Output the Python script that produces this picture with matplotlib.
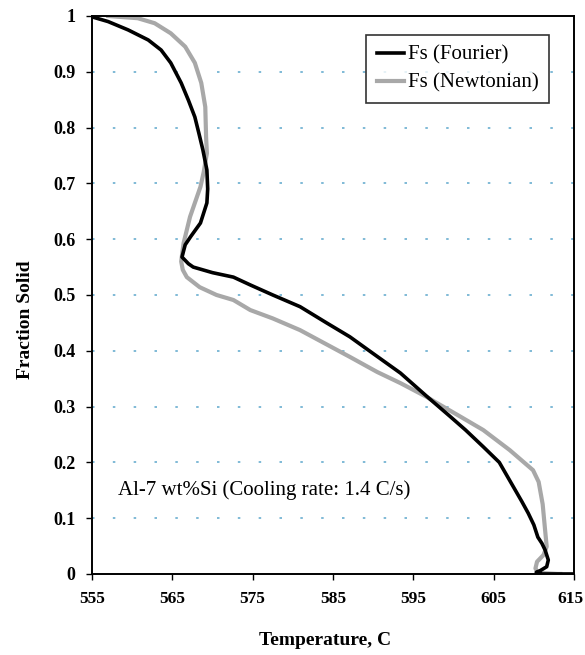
import matplotlib
matplotlib.use('Agg')
import matplotlib.pyplot as plt
import matplotlib.transforms as mtransforms


# ----------------------------------------------------------------------------------------
#                             DATA AREA

# Fourier model (temperature C, fraction solid)
fourier_temp = [555.0, 555.1, 557.0, 559.5, 562.0, 563.6, 564.8, 566.1, 567.0, 567.8,
                568.3, 568.8, 569.3, 569.4, 569.3, 568.5, 567.3, 566.6, 566.2, 567.0,
                567.6, 570.0, 572.6, 574.7, 577.5, 580.9, 584.2, 587.1, 590.0, 593.4,
                596.7, 599.6, 601.5, 603.7, 605.7, 607.5, 608.5, 609.3, 610.0, 610.5,
                611.0, 611.4, 611.8, 611.6, 610.8, 610.3, 611.0, 615.0]
fourier_fs   = [1.000, 0.998, 0.990, 0.975, 0.957, 0.939, 0.916, 0.880, 0.849, 0.819,
                0.790, 0.760, 0.724, 0.690, 0.665, 0.629, 0.605, 0.590, 0.568, 0.556,
                0.550, 0.540, 0.532, 0.518, 0.500, 0.479, 0.450, 0.425, 0.395, 0.360,
                0.318, 0.282, 0.258, 0.228, 0.200, 0.155, 0.130, 0.109, 0.088, 0.066,
                0.055, 0.043, 0.025, 0.013, 0.006, 0.003, 0.000, 0.000]

# Newtonian model
newton_temp = [557.0, 557.9, 560.7, 562.8, 564.8, 566.6, 567.8, 568.6, 569.1, 569.2,
               569.3, 568.9, 568.5, 567.2, 566.4, 566.1, 566.3, 566.8, 568.4, 570.5,
               572.6, 574.7, 577.5, 580.9, 584.0, 587.1, 590.5, 593.4, 596.7, 597.5,
               600.5, 603.7, 607.0, 609.9, 610.6, 611.1, 611.4, 611.6, 611.2, 610.4,
               610.2, 610.5, 613.0, 613.3]
newton_fs   = [1.000, 0.999, 0.996, 0.987, 0.969, 0.945, 0.916, 0.880, 0.837, 0.783,
               0.754, 0.720, 0.694, 0.640, 0.593, 0.560, 0.545, 0.532, 0.514, 0.500,
               0.491, 0.473, 0.458, 0.437, 0.413, 0.389, 0.362, 0.342, 0.317, 0.310,
               0.285, 0.258, 0.222, 0.186, 0.165, 0.125, 0.079, 0.049, 0.034, 0.022,
               0.010, 0.002, 0.000, 0.000]

x_ticks  = [555, 565, 575, 585, 595, 605, 615]
y_ticks  = [0, 0.1, 0.2, 0.3, 0.4, 0.5, 0.6, 0.7, 0.8, 0.9, 1]
y_labels = ['0', '0.1', '0.2', '0.3', '0.4', '0.5', '0.6', '0.7', '0.8', '0.9', '1']


# ----------------------------------------------------------------------------------------
#                             PLOTTING AREA

def plot_fraction_solid():
    plt.rcParams['font.family'] = ['Liberation Serif', 'DejaVu Serif']

    fig = plt.figure(figsize=(5.85, 6.55), dpi=100)
    ax = fig.add_axes([0.1573, 0.1237, 0.8239, 0.8519])

    # dotted blue grid lines, only inside the frame
    for y in y_ticks[1:-1]:
        ax.axhline(y, color='#6aaed0', lw=1.2, ls=(0, (1.5, 11)), zorder=1)

    ax.plot(fourier_temp, fourier_fs, color='black', lw=2.6, label='Fs (Fourier)',
            zorder=3, solid_joinstyle='round')
    ax.plot(newton_temp, newton_fs, color='#a8a8a8', lw=3.0, label='Fs (Newtonian)',
            zorder=2, solid_joinstyle='round')

    ax.set_xlim(555, 615)
    ax.set_ylim(0, 1)
    ax.set_xticks(x_ticks)
    ax.set_xticklabels([str(t) for t in x_ticks], fontsize=12.5, fontweight='bold')
    ax.set_yticks(y_ticks)
    ax.set_yticklabels(y_labels, fontsize=13, fontweight='bold')
    ax.tick_params(axis='both', direction='out', length=4, width=1, pad=8)

    # last x label sits on the figure edge, nudge it in a little
    last = ax.get_xticklabels()[-1]
    last.set_transform(last.get_transform() +
                       mtransforms.ScaledTranslation(-4 / 100, 0, fig.dpi_scale_trans))

    for s in ax.spines.values():
        s.set_linewidth(1.4)

    ax.set_xlabel('Temperature, C', fontsize=14, fontweight='bold')
    ax.set_ylabel('Fraction Solid', fontsize=14, fontweight='bold')
    ax.xaxis.set_label_coords(0.483, -0.104)
    ax.yaxis.set_label_coords(-0.12, 0.455)

    ax.text(558.2, 0.15, 'Al-7 wt%Si (Cooling rate: 1.4 C/s)', fontsize=15,
            va='center', ha='left')

    leg = ax.legend(loc='upper right', bbox_to_anchor=(0.948, 0.966), fontsize=15,
                    frameon=True, fancybox=False, handlelength=1.3, handletextpad=0.2,
                    borderpad=0.5, labelspacing=0.4, borderaxespad=0)
    leg.get_frame().set_edgecolor('black')
    leg.get_frame().set_linewidth(1.2)

    fig.savefig('out.png', dpi=100)


def main():
    plot_fraction_solid()


if __name__ == "__main__":
    main()
